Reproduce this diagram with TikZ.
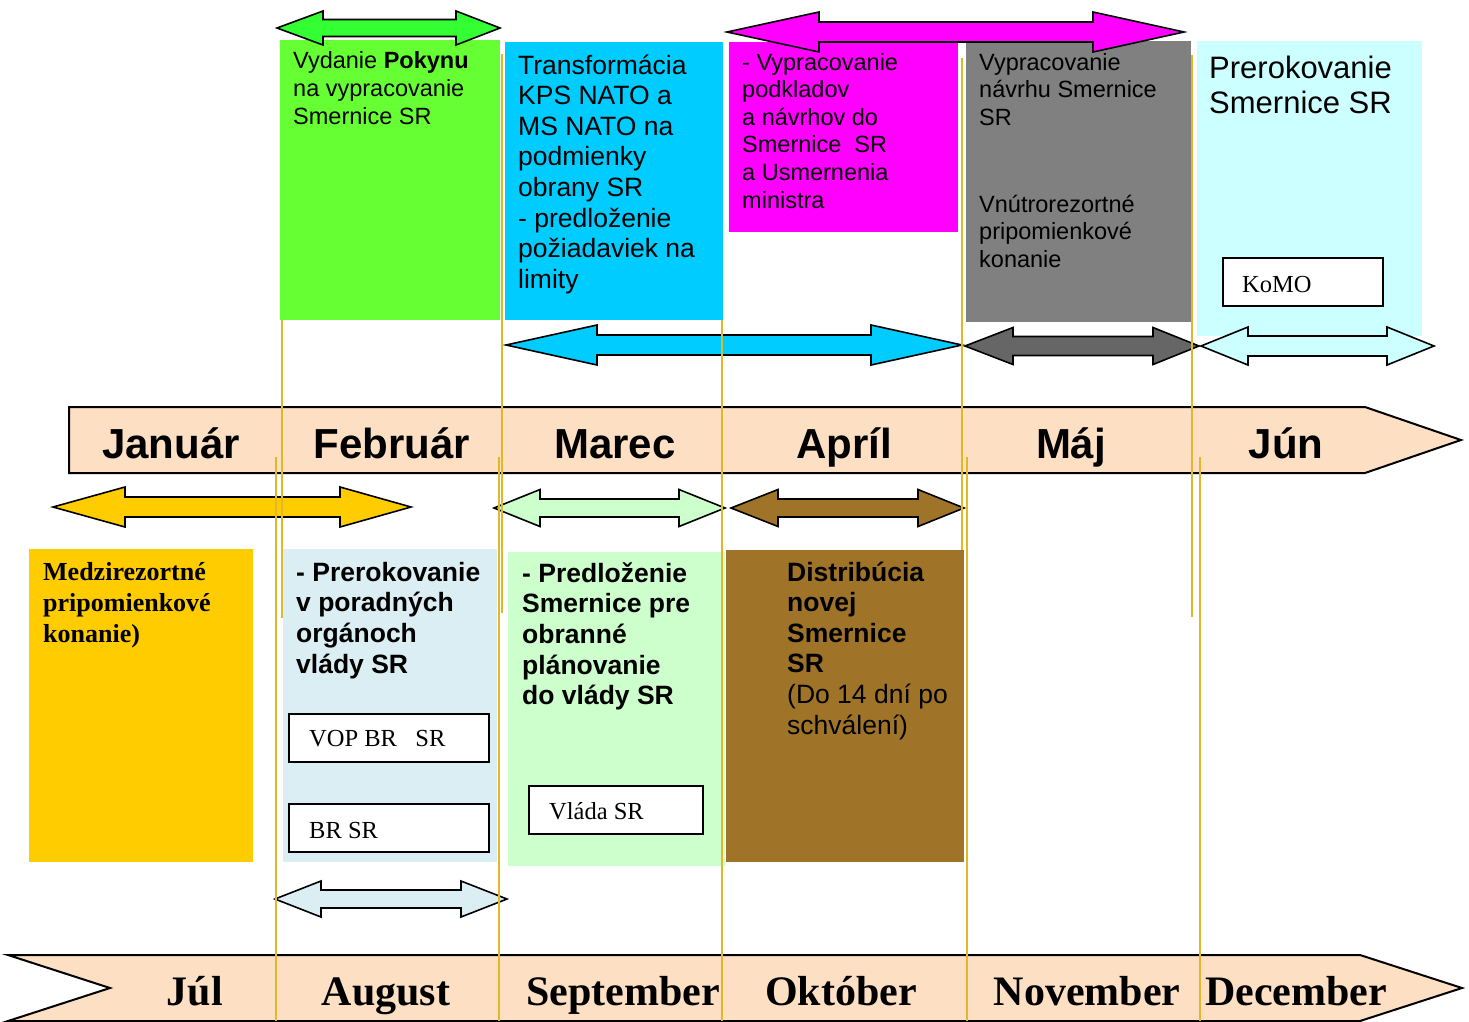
\documentclass[tikz,border=0pt]{standalone}
\usepackage{fontspec}
\setmainfont{Liberation Sans}
\newfontfamily\tms{Liberation Serif}

% colours of the plan
\definecolor{cGreen}{HTML}{66FF33}
\definecolor{cGreenArr}{HTML}{33FF33}
\definecolor{cCyan}{HTML}{00CCFF}
\definecolor{cMag}{HTML}{FF00FF}
\definecolor{cGray}{HTML}{808080}
\definecolor{cGrayArr}{HTML}{666666}
\definecolor{cLCyan}{HTML}{CCFFFF}
\definecolor{cPeach}{HTML}{FDE0C4}
\definecolor{cYellow}{HTML}{FFCC00}
\definecolor{cLBlue}{HTML}{DAEEF3}
\definecolor{cLGreen}{HTML}{CCFFCC}
\definecolor{cBrown}{HTML}{9F7428}
\definecolor{cGold}{HTML}{E0B828}

% multi-line text whose baseline is the first line
\newcommand\mltext[1]{\begin{tabular}[t]{@{}l@{}}#1\end{tabular}}

% horizontal double block arrow: fill, left tip, left base, right base, right tip, centre y, head half, shaft half
\newcommand\blockarrow[8]{%
  \draw[arrowbody, fill=#1] (#2,#6) -- (#3,#6-#7) -- (#3,#6-#8) -- (#4,#6-#8)
    -- (#4,#6-#7) -- (#5,#6) -- (#4,#6+#7) -- (#4,#6+#8) -- (#3,#6+#8)
    -- (#3,#6+#7) -- cycle;}

\tikzset{
  arrowbody/.style={draw=black, line width=1.6pt, line join=miter},
  box/.style={draw=none, anchor=north west, inner sep=0pt, outer sep=0pt},
  framebox/.style={draw=black, line width=1.5pt, fill=white, anchor=north west, inner sep=0pt},
  txt/.style={anchor=base west, inner sep=0pt},
  sans/.style={font=\fontsize{23.5}{27.6}\selectfont},
  sansbig/.style={font=\fontsize{26.5}{30.6}\selectfont},
  sansbold/.style={font=\bfseries\fontsize{26.5}{30.7}\selectfont},
  month/.style={anchor=base, inner sep=0pt, font=\bfseries\fontsize{42}{48}\selectfont},
  monthser/.style={anchor=base, inner sep=0pt, font=\tms\bfseries\fontsize{42}{48}\selectfont},
  bar/.style={draw=black, line width=2pt, fill=cPeach, line join=miter},
  guide/.style={draw=cGold, line width=2.2pt},
  label/.style={anchor=base west, inner sep=0pt, font=\tms\fontsize{24.5}{28}\selectfont},
}

\begin{document}
\begin{tikzpicture}[x=1pt, y=-1pt]
\useasboundingbox (0,0) rectangle (1469,1021);

% ---------- upper row of activity boxes ----------
\node[box, fill=cGreen, minimum width=220pt, minimum height=280pt] (bGreen) at (280,40) {};
\node[box, fill=cCyan, minimum width=218pt, minimum height=278pt] (bCyan) at (505,42) {};
\node[box, fill=cMag, minimum width=229pt, minimum height=190pt] (bMag) at (729,42) {};
\node[box, fill=cGray, minimum width=225pt, minimum height=281pt] (bGray) at (966,41) {};
\node[box, fill=cLCyan, minimum width=225pt, minimum height=295pt] (bLCyan) at (1197,41) {};

\node[txt, sans, font=\fontsize{23.5}{28}\selectfont] (tGreen) at (293,68)
  {\mltext{Vydanie \textbf{Pokynu}\\ na vypracovanie\\ Smernice SR}};
\node[txt, sansbig] (tCyan) at (518,74)
  {\mltext{Transformácia\\ KPS NATO a\\ MS NATO na\\ podmienky\\ obrany SR\\ - predloženie\\ požiadaviek na\\ limity}};
\node[txt, sans] (tMag) at (742,70)
  {\mltext{- Vypracovanie\\ podkladov\\ a návrhov do\\ Smernice\ \ SR\\ a Usmernenia\\ ministra}};
\node[txt, sans] (tGray1) at (979,70)
  {\mltext{Vypracovanie\\ návrhu Smernice\\ SR}};
\node[txt, sans] (tGray2) at (979,212)
  {\mltext{Vnútrorezortné\\ pripomienkové\\ konanie}};
\node[txt, font=\fontsize{31}{35.5}\selectfont] (tLCyan) at (1209,78)
  {\mltext{Prerokovanie\\ Smernice SR}};
\node[framebox, minimum width=160pt, minimum height=48pt] (fKomo) at (1222,257) {};
\node[label] (lKomo) at (1242,292) {KoMO};

% ---------- upper row of duration arrows ----------
\blockarrow{cGreenArr}{277}{323}{456}{500}{28}{17}{8.5}
\blockarrow{cMag}{727}{819}{1093}{1184}{32}{20}{10}
\blockarrow{cCyan}{506}{597}{871}{962}{345}{20}{10}
\blockarrow{cGrayArr}{965}{1013}{1153}{1199}{346}{18.5}{9.5}
\blockarrow{cLCyan}{1201}{1248}{1387}{1434}{346}{19}{10}

% ---------- month bars ----------
\draw[bar] (69,407) -- (1365,407) -- (1461,440) -- (1365,473) -- (69,473) -- cycle;
\draw[bar] (8,955) -- (1360,955) -- (1462,988) -- (1360,1021) -- (8,1021) -- (110,988) -- cycle;

\node[month] (mJan) at (171,458) {Január};
\node[month] (mFeb) at (392,458) {Február};
\node[month] (mMar) at (615,458) {Marec};
\node[month] (mApr) at (844,458) {Apríl};
\node[month] (mMaj) at (1071,458) {Máj};
\node[month] (mJun) at (1286,458) {Jún};

\node[monthser] (mJul) at (195,1005) {Júl};
\node[monthser] (mAug) at (386,1005) {August};
\node[monthser] (mSep) at (623,1005) {September};
\node[monthser] (mOkt) at (841,1005) {Október};
\node[monthser] (mNov) at (1087,1005) {November};
\node[monthser] (mDec) at (1296,1005) {December};

% ---------- lower row of duration arrows ----------
\blockarrow{cYellow}{53}{125}{340}{411}{507}{20}{10}
\blockarrow{cLGreen}{494}{540}{679}{725}{508}{18.5}{9}
\blockarrow{cBrown}{731}{778}{918}{964}{508}{18.5}{9}
\blockarrow{cLBlue}{275}{321}{461}{507}{899}{18}{9}

% ---------- lower row of activity boxes ----------
\node[box, fill=cYellow, minimum width=224pt, minimum height=313pt] (bYellow) at (29,549) {};
\node[box, fill=cLBlue, minimum width=214pt, minimum height=313pt] (bLBlue) at (283,549) {};
\node[box, fill=cLGreen, minimum width=217pt, minimum height=314pt] (bLGreen) at (508,552) {};
\node[box, fill=cBrown, minimum width=238pt, minimum height=312pt] (bBrown) at (726,550) {};

\node[txt, font=\tms\bfseries\fontsize{26}{31}\selectfont] (tYellow) at (43,580)
  {\mltext{Medzirezortné\\ pripomienkové\\ konanie)}};
\node[txt, sansbold] (tLBlue) at (296,581)
  {\mltext{- Prerokovanie\\ v poradných\\ orgánoch\\ vlády SR}};
\node[txt, sansbold] (tLGreen) at (522,582)
  {\mltext{- Predloženie\\ Smernice pre\\ obranné\\ plánovanie\\ do vlády SR}};
\node[txt, font=\fontsize{26.5}{30.6}\selectfont] (tBrown) at (787,581)
  {\mltext{\textbf{Distribúcia}\\ \textbf{novej}\\ \textbf{Smernice}\\ \textbf{SR}\\ (Do 14 dní po\\ schválení)}};

\node[framebox, minimum width=200pt, minimum height=48pt] (fVop) at (288,713) {};
\node[label] (lVop) at (309,746) {VOP BR\ \ \ SR};
\node[framebox, minimum width=200pt, minimum height=48pt] (fBr) at (288,803) {};
\node[label] (lBr) at (309,838) {BR SR};
\node[framebox, minimum width=174pt, minimum height=48pt] (fVlada) at (528,785) {};
\node[label] (lVlada) at (549,819) {Vláda SR};

% ---------- month guide lines ----------
\draw[guide] (282,320) -- (282,618);
\draw[guide] (502,54) -- (502,613);
\draw[guide] (722,320) -- (722,1021);
\draw[guide] (962,58) -- (962,550);
\draw[guide] (1192,55) -- (1192,617);
\draw[guide] (276,457) -- (276,1021);
\draw[guide] (499,457) -- (499,1021);
\draw[guide] (967,457) -- (967,1021);
\draw[guide] (1200,457) -- (1200,1021);
\end{tikzpicture}
\end{document}
